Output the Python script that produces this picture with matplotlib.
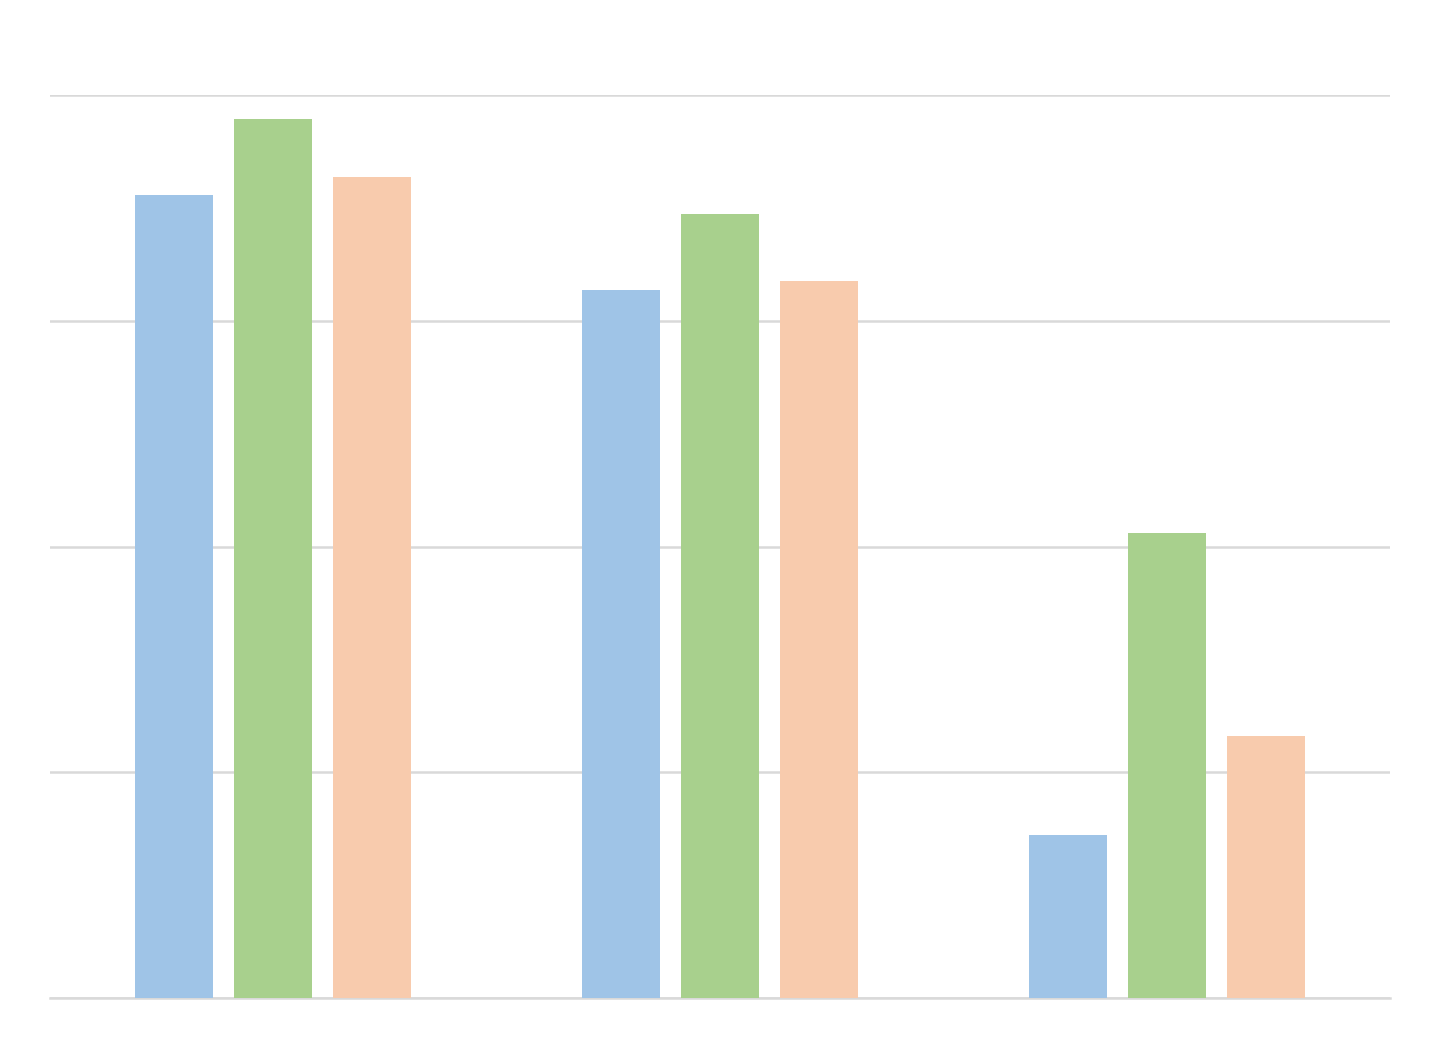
import numpy as np
import matplotlib.pyplot as plt

# Values (gridlines every 10 units, 0..40)
categories = ["A", "B", "C"]
series_names = ["Series 1", "Series 2", "Series 3"]
series_1 = [35.55, 31.35, 7.2]
series_2 = [38.95, 34.75, 20.6]
series_3 = [36.35, 31.75, 11.6]
colors = ["#9fc4e7", "#a8d08d", "#f8cbad"]
y_ticks = [0, 10, 20, 30, 40]

fig = plt.figure(figsize=(14.4, 10.49), dpi=100)
ax = fig.add_axes([50 / 1440, 1 - 998 / 1049, 1340 / 1440, 903 / 1049])

x = np.arange(len(categories))
step = 0.2216
width = 0.1746
for i, (vals, col, name) in enumerate(zip([series_1, series_2, series_3], colors, series_names)):
    ax.bar(x + (i - 1) * step, vals, width=width, color=col, label=name, zorder=3)

ax.set_xlim(-0.5, len(categories) - 0.5)
ax.set_ylim(0, 40)
ax.set_yticks(y_ticks)
ax.yaxis.grid(True, color="#d9d9d9", linewidth=1.8, zorder=0)
ax.set_axisbelow(True)
for side in ["top", "right", "left"]:
    ax.spines[side].set_visible(False)
ax.spines["bottom"].set_color("#d9d9d9")
ax.spines["bottom"].set_linewidth(1.8)
ax.tick_params(left=False, bottom=False, labelleft=False, labelbottom=False)

fig.savefig("out.png", dpi=100)
